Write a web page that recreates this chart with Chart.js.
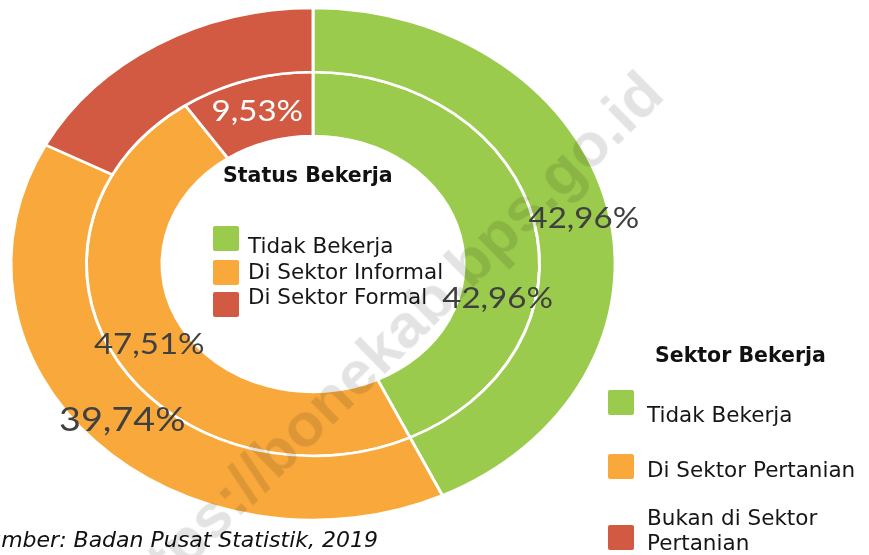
<!DOCTYPE html>
<html>
<head>
<meta charset="utf-8">
<script src="https://cdn.jsdelivr.net/npm/chart.js@4.4.1/dist/chart.umd.min.js"></script>
<style>
  html, body { margin: 0; padding: 0; background: #fff; }
  #wrap { position: relative; width: 869px; height: 555px; overflow: hidden; }
  #wrap canvas { position: absolute; left: 0; top: 0; }
  .lg { position: absolute; font-family: "DejaVu Sans", sans-serif; font-size: 21.5px; line-height: 25px; color: #161616; }
  .lg-title { position: absolute; font-family: "DejaVu Sans", sans-serif; font-weight: bold; line-height: 25px; color: #111; white-space: nowrap; }
  .sw { position: absolute; width: 26px; height: 25px; border-radius: 2px; }
  #src { position: absolute; right: 491px; top: 527px; font-family: "DejaVu Sans", sans-serif; font-style: italic;
         font-size: 22px; line-height: 25px; color: #111; white-space: nowrap; }
  #wm { position: absolute; width: 760px; height: 76px; line-height: 76px; left: -108px; top: 44px; text-align: right;
        font-family: "Liberation Sans", Arial, sans-serif; font-weight: bold; font-size: 62px; color: rgba(0,0,0,0.11);
        white-space: nowrap; transform-origin: 100% 50%; transform: rotate(-44.5deg); pointer-events: none; }
</style>
</head>
<body>
<div id="wrap">
  <canvas id="donut"></canvas>
  <div id="legends"></div>
  <div id="src">Sumber: Badan Pusat Statistik, 2019</div>
  <div id="wm">https://bonekab.bps.go.id</div>
</div>
<script>
// data
const colors = ["#9bcb4c", "#f9a93b", "#d35a42"];

const sektorTitle = "Sektor Bekerja";
const sektorLabels = ["Tidak Bekerja", "Di Sektor Pertanian", "Bukan di Sektor Pertanian"];
const sektorValues = [42.96, 39.74, 17.30];
const sektorShow = [true, true, false];

const statusTitle = "Status Bekerja";
const statusLabels = ["Tidak Bekerja", "Di Sektor Informal", "Di Sektor Formal"];
const statusValues = [42.96, 47.51, 9.53];
const statusShow = [true, true, true];

const fmt = v => v.toFixed(2).replace(".", ",") + "%";

// horizontal stretch of the rings (the source picture is an ellipse)
const SX = 1.18;

const ellipsePlugin = {
  id: "ellipse",
  beforeDatasetsDraw(chart) {
    const ctx = chart.ctx;
    const cx = (chart.chartArea.left + chart.chartArea.right) / 2;
    ctx.save();
    ctx.translate(cx, 0);
    ctx.scale(SX, 1);
    ctx.translate(-cx, 0);
  },
  afterDatasetsDraw(chart, args, opts) {
    const ctx = chart.ctx;
    chart.data.datasets.forEach((ds, i) => {
      const meta = chart.getDatasetMeta(i);
      meta.data.forEach((arc, j) => {
        if (!ds.show[j]) return;
        const tw = (opts.tweaks[i] && opts.tweaks[i][j]) || {};
        const p = arc.getProps(["x", "y", "startAngle", "endAngle", "innerRadius", "outerRadius"], true);
        const a = (p.startAngle + p.endAngle) / 2 + (tw.da || 0) * Math.PI / 180;
        const r = (p.innerRadius + p.outerRadius) / 2 + (tw.dr || 0);
        const size = tw.size || opts.size;
        ctx.font = "400 " + size + "px Lato, 'Noto Sans', sans-serif";
        ctx.fillStyle = tw.color || opts.color;
        ctx.textAlign = "center";
        ctx.textBaseline = "alphabetic";
        ctx.fillText(fmt(ds.data[j]), p.x + Math.cos(a) * r, p.y + Math.sin(a) * r + size * 0.36);
      });
    });
    ctx.restore();
  }
};

const ctx = document.getElementById("donut").getContext("2d");
const chart = new Chart(ctx, {
  type: "doughnut",
  data: {
    labels: sektorLabels,
    datasets: [
      {
        label: sektorTitle,
        data: sektorValues,
        show: sektorShow,
        backgroundColor: colors,
        borderColor: "#ffffff",
        borderWidth: 2.5
      },
      {
        label: statusTitle,
        data: statusValues,
        show: statusShow,
        backgroundColor: colors,
        borderColor: "#ffffff",
        borderWidth: 2.5
      }
    ]
  },
  options: {
    responsive: true,
    maintainAspectRatio: false,
    animation: false,
    cutout: "50%",
    hoverOffset: 0,
    layout: { padding: { left: 55.75, right: 298.75, top: 6.75, bottom: 33.75 } },
    plugins: {
      legend: { display: false },
      tooltip: { enabled: false },
      ellipse: {
        size: 28,
        color: "#404040",
        tweaks: {
          0: [{ dr: 10, da: 1.4 }, { size: 32 }, null],
          1: [{ da: 24.8 }, {}, { color: "#ffffff" }]
        }
      }
    }
  },
  plugins: [ellipsePlugin]
});

// legends as html
const legends = document.getElementById("legends");
function addLegend(title, titleSize, titleX, titleBase, labels, swX, swTops, txtX, txtBases, txtWidth) {
  const t = document.createElement("div");
  t.className = "lg-title";
  t.style.fontSize = titleSize + "px";
  t.style.left = titleX + "px";
  t.style.top = (titleBase - (12.5 + 0.346 * titleSize)) + "px";
  t.textContent = title;
  legends.appendChild(t);
  labels.forEach((lab, k) => {
    const s = document.createElement("div");
    s.className = "sw";
    s.style.left = swX + "px";
    s.style.top = swTops[k] + "px";
    s.style.background = colors[k];
    legends.appendChild(s);
    const d = document.createElement("div");
    d.className = "lg";
    d.style.left = txtX + "px";
    d.style.top = (txtBases[k] - 20) + "px";
    d.style.width = txtWidth + "px";
    d.textContent = lab;
    legends.appendChild(d);
  });
}
addLegend(statusTitle, 20.5, 223, 183, statusLabels, 213, [226, 260, 292], 248, [253, 279, 304], 300);
addLegend(sektorTitle, 20.5, 655, 363, sektorLabels, 608, [390, 454, 525], 647, [422, 477, 525], 222);
</script>
</body>
</html>
